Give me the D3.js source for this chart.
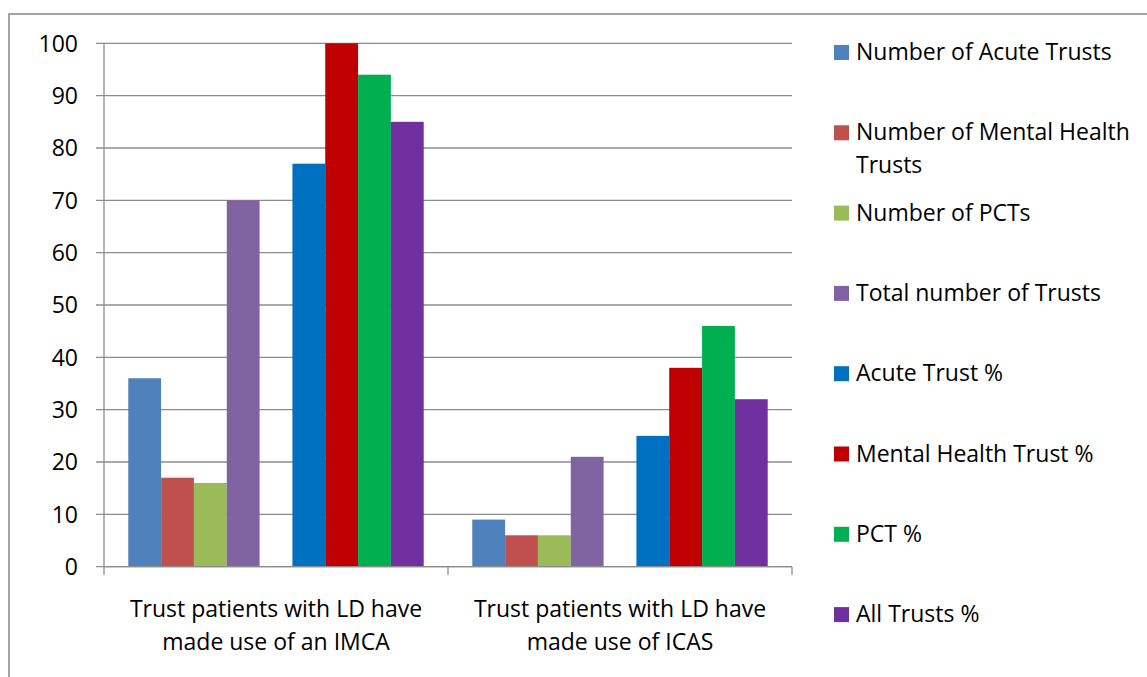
<!DOCTYPE html>
<html>
<head>
<meta charset="utf-8">
<script src="https://cdn.jsdelivr.net/npm/d3@7"></script>
<style>
  body { margin: 0; background: #fff; }
  text { font-family: "Open Sans", Lato, sans-serif; fill: #000; }
</style>
</head>
<body>
<div id="graph"></div>
<script>
// data
const categories = [
  "Trust patients with LD have\nmade use of an IMCA",
  "Trust patients with LD have\nmade use of ICAS"
]
const seriesNames = [
  "Number of Acute Trusts",
  "Number of Mental Health\nTrusts",
  "Number of PCTs",
  "Total number of Trusts",
  "Acute Trust %",
  "Mental Health Trust %",
  "PCT %",
  "All Trusts %"
]
const seriesColors = ["#4F81BD", "#C0504D", "#9BBB59", "#8064A2", "#0070C0", "#C00000", "#00B050", "#7030A0"]
const imcaValues = [36, 17, 16, 70, 77, 100, 94, 85]
const icasValues = [9, 6, 6, 21, 25, 38, 46, 32]
const yTicks = [0, 10, 20, 30, 40, 50, 60, 70, 80, 90, 100]

const W = 1147, H = 677
const margin = {top: 43.3, left: 104, right: 355, bottom: 110.3}
const width = W - margin.left - margin.right
const height = H - margin.top - margin.bottom
const fs = 23

const svg = d3.select("#graph").append("svg")
  .attr("width", W)
  .attr("height", H)

// outer chart border (runs off the right and bottom edge)
svg.append("rect")
  .attr("x", 9).attr("y", 14)
  .attr("width", W + 20).attr("height", H + 20)
  .attr("fill", "none")
  .attr("stroke", "#868686")
  .attr("stroke-width", 1.5)

const g = svg.append("g")
  .attr("transform", "translate(" + margin.left + "," + margin.top + ")")

const values = [imcaValues, icasValues]

const x0 = d3.scaleBand()
  .domain(d3.range(categories.length))
  .range([0, width])

// 9 slots, one empty between the counts and the percentages
const slots = [0, 1, 2, 3, 5, 6, 7, 8]
const x1 = d3.scaleBand()
  .domain(d3.range(9))
  .range([0, x0.bandwidth()])
  .paddingOuter(0.74)
  .paddingInner(0)

const y = d3.scaleLinear()
  .domain([0, 100])
  .range([height, 0])

// gridlines
g.append("g")
  .selectAll("line")
  .data(yTicks)
  .join("line")
  .attr("x1", -8)
  .attr("x2", width)
  .attr("y1", d => y(d))
  .attr("y2", d => y(d))
  .attr("stroke", "#8c8c8c")
  .attr("stroke-width", 1.3)

// y tick labels
g.append("g")
  .selectAll("text")
  .data(yTicks)
  .join("text")
  .attr("x", -26)
  .attr("y", d => y(d))
  .attr("dy", "0.36em")
  .attr("text-anchor", "end")
  .style("font-size", fs + "px")
  .text(d => d)

// bars
const cat = g.selectAll(".cat")
  .data(values)
  .join("g")
  .attr("class", "cat")
  .attr("transform", (d, i) => "translate(" + x0(i) + ",0)")

cat.selectAll("rect")
  .data(d => d.map((v, j) => ({v, j})))
  .join("rect")
  .attr("x", d => x1(slots[d.j]))
  .attr("width", x1.bandwidth())
  .attr("y", d => y(d.v))
  .attr("height", d => height - y(d.v))
  .attr("fill", d => seriesColors[d.j])

// axes lines
g.append("line")
  .attr("x1", 0).attr("x2", 0)
  .attr("y1", 0).attr("y2", height)
  .attr("stroke", "#8c8c8c").attr("stroke-width", 1.3)

g.append("line")
  .attr("x1", 0).attr("x2", width)
  .attr("y1", height).attr("y2", height)
  .attr("stroke", "#8c8c8c").attr("stroke-width", 1.3)

// x category ticks
g.append("g")
  .selectAll("line")
  .data(d3.range(categories.length + 1))
  .join("line")
  .attr("x1", d => d * x0.bandwidth())
  .attr("x2", d => d * x0.bandwidth())
  .attr("y1", height)
  .attr("y2", height + 8)
  .attr("stroke", "#8c8c8c").attr("stroke-width", 1.3)

// x labels
g.append("g")
  .selectAll("text")
  .data(categories)
  .join("text")
  .attr("text-anchor", "middle")
  .style("font-size", fs + "px")
  .attr("transform", (d, i) => "translate(" + (x0(i) + x0.bandwidth() / 2) + "," + (height + 50) + ")")
  .each(function(d){
    const t = d3.select(this)
    d.split("\n").forEach((line, k) => {
      t.append("tspan").attr("x", 0).attr("y", k * 33).text(line)
    })
  })

// legend
const legend = svg.append("g")
  .attr("transform", "translate(834,45)")

const item = legend.selectAll("g")
  .data(seriesNames)
  .join("g")
  .attr("transform", (d, i) => "translate(0," + (i * 80.3) + ")")

item.append("rect")
  .attr("width", 15)
  .attr("height", 15)
  .attr("fill", (d, i) => seriesColors[i])

item.append("text")
  .style("font-size", fs + "px")
  .each(function(d){
    const t = d3.select(this)
    d.split("\n").forEach((line, k) => {
      t.append("tspan").attr("x", 22).attr("y", 15 + k * 33).text(line)
    })
  })
</script>
</body>
</html>
